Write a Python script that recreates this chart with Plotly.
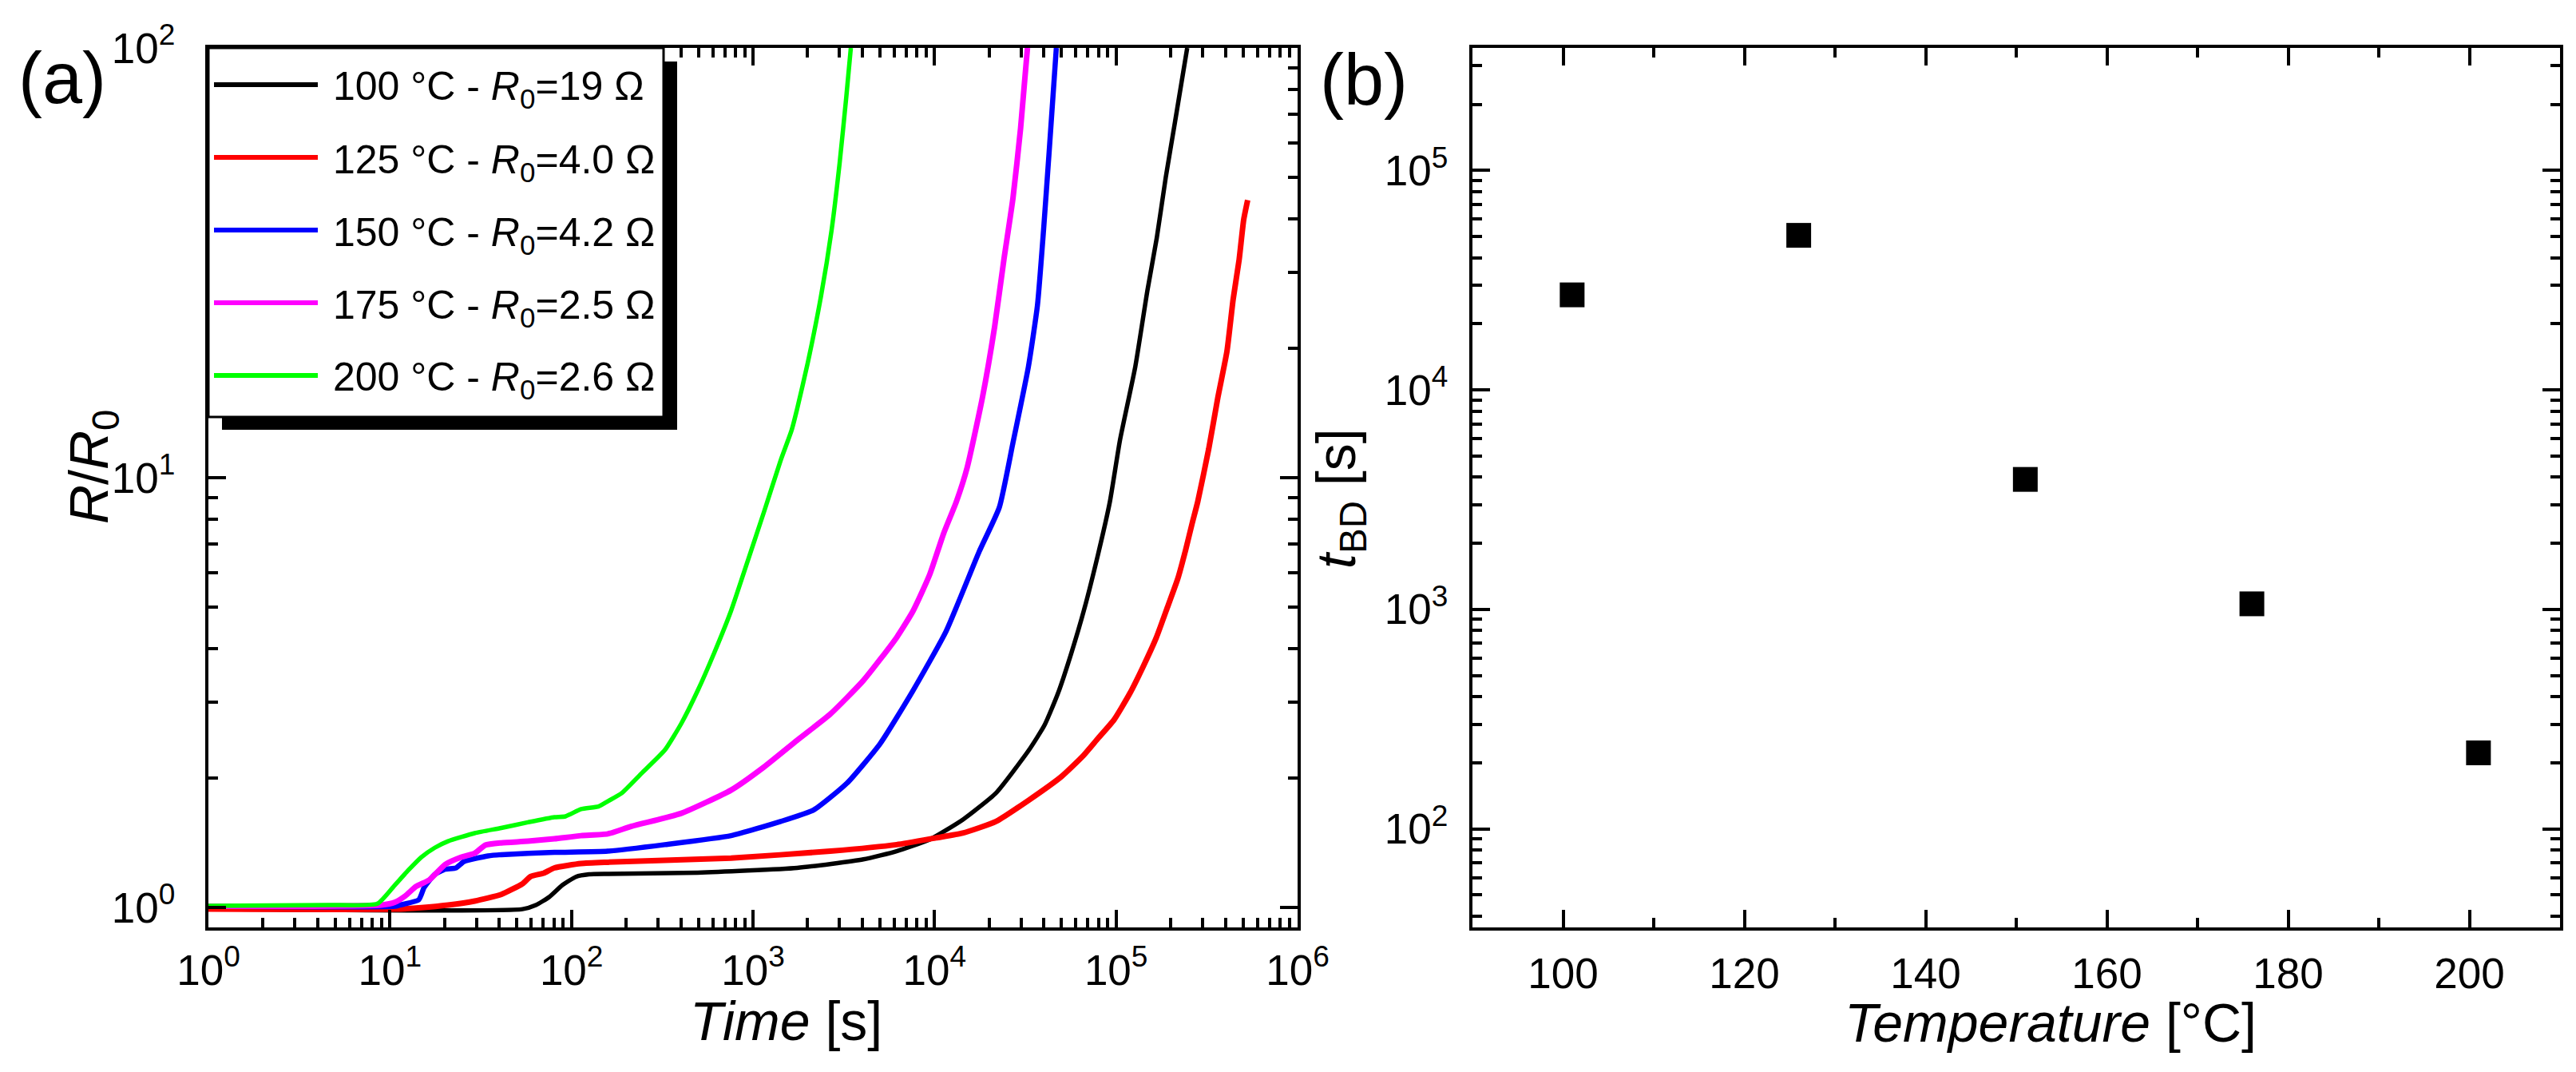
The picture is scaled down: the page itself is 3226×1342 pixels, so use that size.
import plotly.graph_objects as go

W, H = 3226, 1342
FONT = "Liberation Sans"

# ---------------- Panel (a) data: time [s] and R/R0 ----------------
t_100 = [1, 53.7, 63.68, 75.34, 89.13, 105.7, 125.0, 158.5, 496.6, 1750,
         4055, 6180, 9397, 14290, 21780, 33110, 40360, 47860, 56620, 66990,
         79430, 92470, 105200, 127600, 148900, 167500, 187900, 211300, 246600]
r_100 = [0.991, 0.991, 1.013, 1.057, 1.127, 1.178, 1.194, 1.197, 1.205, 1.236,
         1.294, 1.352, 1.439, 1.600, 1.845, 2.323, 2.655, 3.148, 3.899, 4.966,
         6.607, 8.790, 12.25, 18.11, 27.29, 36.06, 50.0, 67.30, 100]

t_125 = [1, 10.64, 14.89, 20.89, 29.31, 41.02, 53.70, 59.43, 70.47, 80.54,
         113.0, 158.5, 756.8, 2667, 6180, 10210, 14290, 21780, 33110, 50120,
         65920, 79430, 97270, 119100, 140900, 166700, 191000, 218800, 242100, 263000,
         281800, 323600, 363900, 408300, 441600, 476400, 504700, 530900]
r_125 = [0.991, 0.991, 0.999, 1.013, 1.035, 1.072, 1.135, 1.180, 1.202, 1.236,
         1.265, 1.274, 1.303, 1.352, 1.400, 1.452, 1.489, 1.585, 1.778, 2.018,
         2.254, 2.472, 2.729, 3.148, 3.631, 4.246, 4.966, 5.821, 6.808, 7.852,
         8.790, 11.64, 15.38, 19.68, 26.0, 32.14, 39.81, 44.26]

t_150 = [1, 10.64, 11.38, 14.42, 15.42, 17.66, 20.18, 23.12, 25.59, 34.67,
         41.02, 80.54, 158.5, 326.6, 756.8, 1419, 2163, 3289, 5012, 7621,
         11590, 17620, 22750, 27040, 32890, 36900, 39900, 42760, 46880]
r_150 = [1.006, 1.006, 1.013, 1.042, 1.112, 1.194, 1.227, 1.236, 1.279, 1.318,
         1.327, 1.343, 1.352, 1.400, 1.469, 1.585, 1.687, 1.945, 2.404, 3.199,
         4.395, 6.730, 8.531, 12.05, 18.11, 25.18, 37.84, 57.02, 100]

t_175 = [1, 8.97, 10.64, 12.16, 13.93, 16.48, 20.18, 24.72, 29.31, 33.50,
         41.02, 57.54, 80.54, 113.0, 158.5, 214.3, 402.7, 756.8, 1151, 1750,
         2667, 4055, 6180, 7621, 9397, 11220, 13210, 15140, 18370, 21430,
         24100, 27040, 29790, 32510]
r_175 = [1.006, 1.013, 1.028, 1.064, 1.119, 1.159, 1.259, 1.309, 1.337, 1.396,
         1.413, 1.426, 1.445, 1.469, 1.483, 1.545, 1.656, 1.875, 2.123, 2.449,
         2.818, 3.373, 4.246, 4.898, 5.943, 7.413, 8.810, 10.57, 15.38, 22.44,
         32.14, 44.67, 65.01, 100]

t_200 = [1, 4.57, 8.53, 10.64, 12.59, 14.89, 17.66, 20.89, 29.31, 41.02,
         57.54, 80.54, 92.68, 113.0, 140.9, 158.5, 189.2, 243.2, 326.6, 402.7,
         496.6, 612.4, 756.8, 933.3, 1151, 1419, 1633, 1750, 2000, 2366,
         2710, 2999, 3266, 3459]
r_200 = [1.009, 1.013, 1.020, 1.127, 1.219, 1.309, 1.377, 1.426, 1.489, 1.531,
         1.578, 1.622, 1.629, 1.694, 1.718, 1.766, 1.845, 2.051, 2.323, 2.679,
         3.199, 3.917, 4.898, 6.383, 8.337, 10.96, 12.91, 14.45, 18.45, 26.36,
         37.67, 53.83, 76.91, 100]

series_names = [
    "100 °C - <i>R</i><sub>0</sub>=19 Ω",
    "125 °C - <i>R</i><sub>0</sub>=4.0 Ω",
    "150 °C - <i>R</i><sub>0</sub>=4.2 Ω",
    "175 °C - <i>R</i><sub>0</sub>=2.5 Ω",
    "200 °C - <i>R</i><sub>0</sub>=2.6 Ω",
]
series_colors = ["#000000", "#FF0000", "#0000FF", "#FF00FF", "#00FF00"]

# ---------------- Panel (b) data ----------------
temperature = [101, 126, 151, 176, 201]
t_bd = [27100, 50600, 3910, 1060, 222]

# tick labels
xa_tickvals = [1, 10, 100, 1000, 10000, 100000, 1000000]
xa_ticktext = ["10<sup>%d</sup>" % i for i in range(7)]
ya_tickvals = [1, 10, 100]
ya_ticktext = ["10<sup>0</sup>", "10<sup>1</sup>", "10<sup>2</sup>"]
yb_tickvals = [100, 1000, 10000, 100000]
yb_ticktext = ["10<sup>2</sup>", "10<sup>3</sup>", "10<sup>4</sup>", "10<sup>5</sup>"]
xb_tickvals = [100, 120, 140, 160, 180, 200]

# ---------------- geometry helpers (pixels -> paper) ----------------
def px(x):
    return x / W


def py(y):
    return 1 - y / H


A_L, A_R, TOP, BOT = 253, 1617, 52, 1153
B_L, B_R = 1836, 3198

fig = go.Figure()

curves = [(t_100, r_100), (t_125, r_125), (t_150, r_150), (t_175, r_175), (t_200, r_200)]
widths = [5.5, 7, 6.5, 7, 5.5]
for (tx, ry), name, col, w in zip(curves, series_names, series_colors, widths):
    fig.add_trace(go.Scatter(x=tx, y=ry, mode="lines", name=name,
                             line=dict(color=col, width=w, shape="spline", smoothing=0.5),
                             xaxis="x", yaxis="y", showlegend=False))

fig.add_trace(go.Scatter(x=temperature, y=t_bd, mode="markers",
                         marker=dict(symbol="square", size=31, color="black"),
                         xaxis="x2", yaxis="y2", showlegend=False))


def log_minor(decades):
    vals = []
    for d in decades:
        for k in range(2, 10):
            vals.append(k * 10 ** d)
    return vals


tickfont = dict(family=FONT, size=53, color="black")
common = dict(showline=True, linecolor="black", linewidth=4, mirror="allticks",
              ticks="inside", ticklen=22, tickwidth=4, tickcolor="black",
              showgrid=False, zeroline=False, tickfont=tickfont, automargin=False)


def minor(vals):
    return dict(ticks="inside", ticklen=12, tickwidth=4, tickcolor="black",
                tickvals=vals, showgrid=False)


fig.update_layout(
    width=W, height=H,
    margin=dict(l=0, r=0, t=0, b=0, pad=0, autoexpand=False),
    paper_bgcolor="white", plot_bgcolor="white",
    showlegend=False,
    font=dict(family=FONT, color="black"),
    xaxis=dict(type="log", range=[0, 6], domain=[px(A_L), px(A_R)], anchor="y",
               tickmode="array", tickvals=xa_tickvals, ticktext=xa_ticktext,
               minor=minor(log_minor(range(0, 6))), ticklabelstandoff=4, **common),
    yaxis=dict(type="log", range=[-0.0465, 2], domain=[py(BOT), py(TOP)], anchor="x",
               tickmode="array", tickvals=ya_tickvals, ticktext=ya_ticktext,
               minor=minor(log_minor(range(0, 2))), ticklabelstandoff=27, **common),
    xaxis2=dict(range=[90, 210], domain=[px(B_L), px(B_R)], anchor="y2",
                tickmode="array", tickvals=xb_tickvals,
                minor=minor([110, 130, 150, 170, 190]), ticklabelstandoff=8, **common),
    yaxis2=dict(type="log", range=[1.551, 5.558], domain=[py(BOT), py(TOP)], anchor="x2",
                tickmode="array", tickvals=yb_tickvals, ticktext=yb_ticktext,
                minor=minor(log_minor(range(1, 6))), ticklabelstandoff=16, **common),
)

# ---------------- manual legend (box with drop shadow) ----------------
shapes = [
    dict(type="rect", xref="paper", yref="paper", x0=px(A_L), x1=px(842), y0=py(532), y1=py(TOP),
         fillcolor="white", line=dict(width=0), layer="above"),
    dict(type="rect", xref="paper", yref="paper", x0=px(270), x1=px(840), y0=py(530), y1=py(69),
         fillcolor="black", line=dict(width=0), layer="above"),
    dict(type="rect", xref="paper", yref="paper", x0=px(A_L), x1=px(823), y0=py(514), y1=py(TOP),
         fillcolor="white", line=dict(color="black", width=3), layer="above"),
]
legend_y = [98, 189, 280, 371, 462]
annotations = []
for yy, name, col in zip(legend_y, series_names, series_colors):
    shapes.append(dict(type="line", xref="paper", yref="paper", x0=px(260), x1=px(390),
                       y0=py(yy), y1=py(yy), line=dict(color=col, width=6), layer="above"))
    annotations.append(dict(xref="paper", yref="paper", x=px(407), y=py(yy + 6),
                            xanchor="left", yanchor="middle", showarrow=False,
                            text=name, font=dict(family=FONT, size=50, color="black")))

title_font = dict(family=FONT, size=68, color="black")
annotations += [
    dict(xref="paper", yref="paper", x=px(976), y=py(1270), xanchor="center", yanchor="middle",
         showarrow=False, text="<i>Time</i> [s]", font=title_font),
    dict(xref="paper", yref="paper", x=px(2560), y=py(1272), xanchor="center", yanchor="middle",
         showarrow=False, text="<i>Temperature</i> [°C]", font=title_font),
    dict(xref="paper", yref="paper", x=px(108), y=py(576), xanchor="center", yanchor="middle",
         showarrow=False, textangle=-90, text="<i>R</i>/<i>R</i><sub>0</sub>", font=title_font),
    dict(xref="paper", yref="paper", x=px(1670), y=py(616), xanchor="center", yanchor="middle",
         showarrow=False, textangle=-90, text="<i>t</i><sub>BD</sub> [s]", font=title_font),
    dict(xref="paper", yref="paper", x=px(70), y=py(90), xanchor="center", yanchor="middle",
         showarrow=False, text="(a)", font=dict(family=FONT, size=90, color="black")),
    dict(xref="paper", yref="paper", x=px(1700), y=py(92), xanchor="center", yanchor="middle",
         showarrow=False, text="(b)", font=dict(family=FONT, size=90, color="black")),
]

fig.update_layout(shapes=shapes, annotations=annotations)

fig.write_html("out.html")
